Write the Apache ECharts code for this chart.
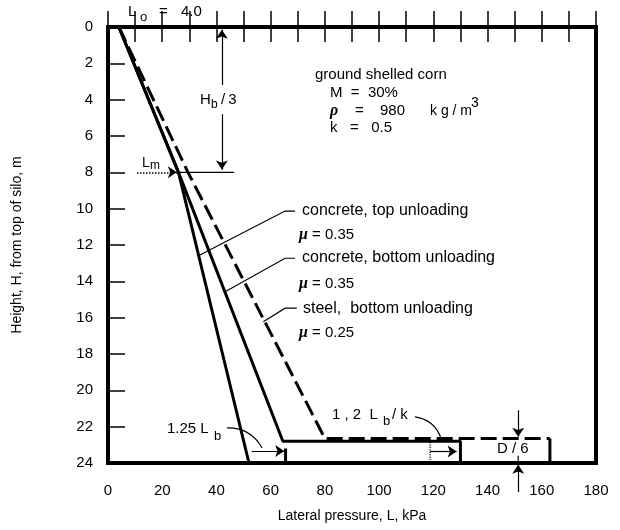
<!DOCTYPE html>
<html>
<head>
<meta charset="utf-8">
<script src="https://cdn.jsdelivr.net/npm/echarts@6/dist/echarts.min.js"></script>
<style>
  html, body { margin: 0; padding: 0; background: #fff; }
  #chart { width: 620px; height: 530px; }
</style>
</head>
<body>
<div id="chart"></div>
<script>
// axis ranges
var xMin = 0, xMax = 180, yMin = 0, yMax = 24;

// lateral pressure (kPa) vs depth (m)
var steelL = [4, 26, 52, 65.5, 65.5];
var steelH = [0, 8, 24, 24, 23.2];
var concBottomL = [4, 26, 64.5, 130, 130];
var concBottomH = [0, 8, 22.8, 22.8, 24];
var concTopL = [4, 29.5, 80, 163];
var concTopH = [0, 8, 22.65, 22.65];
var concTopEndL = [163, 163];
var concTopEndH = [22.65, 24];

// annotation geometry (data units)
var arrowLines = [
  [[42, 3.2], [42, 0.15]],      // Hb/3 up
  [[42, 4.8], [42, 7.85]],      // Hb/3 down
  [[53, 23.34], [65, 23.34]],   // 1.25 Lb
  [[118.8, 23.37], [128.6, 23.37]],
  [[151.3, 21.1], [151.3, 22.55]], // D/6 down
  [[151.3, 25.6], [151.3, 24.1]]   // D/6 up
];
var lmArrow = [[10.7, 8], [25.4, 8]];
var lmLine = [[25.8, 8], [46.5, 8]];
var leaderTop = [[33.9, 12.55], [65.3, 10.13], [69, 10.13]];
var leaderBottom = [[43.2, 14.57], [65.3, 12.73], [69, 12.73]];
var leaderSteel = [[57.3, 16.22], [65.3, 15.48], [69.6, 15.48]];
var curveLb = [[43.9, 22.07], [56.8, 23.17]];
var curveLbk = [[113.2, 21.46], [122.8, 22.62]];
var dottedTick = [[118.8, 22.85], [118.8, 23.9]];
var dimTick = [[151.3, 23.6], [151.3, 24]];

function pairs(xs, ys) {
  return xs.map(function (x, i) { return [x, ys[i]]; });
}

var FONT = 'Liberation Sans, Arial, sans-serif';

function txt(x, y, text, size, extra) {
  var o = {
    type: 'text', x: x, y: y, z: 10,
    style: { text: text, fill: '#000', font: size + 'px ' + FONT, verticalAlign: 'middle' }
  };
  if (extra) { for (var k in extra) o.style[k] = extra[k]; }
  return o;
}

var mu = { m: { font: 'italic bold 16px Liberation Serif, serif', fill: '#000' } };

var chart = echarts.init(document.getElementById('chart'));
var option = {
  backgroundColor: '#fff',
  animation: false,
  grid: {
    left: 108, right: 24, top: 27, bottom: 67,
    show: true, borderColor: '#000', borderWidth: 4, backgroundColor: 'transparent'
  },
  xAxis: [{
    type: 'value', min: xMin, max: xMax, interval: 10,
    name: 'Lateral pressure, L, kPa', nameLocation: 'middle', nameGap: 46,
    nameTextStyle: { fontFamily: FONT, fontSize: 14, color: '#000' },
    axisLine: { show: false },
    axisTick: { inside: true, length: 16, lineStyle: { color: '#000', width: 1.5 } },
    axisLabel: {
      margin: 20, fontFamily: FONT, fontSize: 15, color: '#000',
      formatter: function (v) { return v % 20 === 0 ? String(v) : ''; }
    },
    splitLine: { show: false }
  }, {
    type: 'value', position: 'top', min: xMin, max: xMax, interval: 10,
    axisLine: { show: false },
    axisTick: { inside: true, length: 15, lineStyle: { color: '#000', width: 1.5 } },
    axisLabel: { show: false },
    splitLine: { show: false }
  }],
  yAxis: {
    type: 'value', inverse: true, min: yMin, max: yMax, interval: 2,
    name: 'Height, H, from top of silo, m', nameLocation: 'middle', nameGap: 84,
    nameTextStyle: { fontFamily: FONT, fontSize: 14, color: '#000' },
    axisLine: { show: false },
    axisTick: { inside: true, length: 17, lineStyle: { color: '#000', width: 1.5 } },
    axisLabel: { margin: 15, fontFamily: FONT, fontSize: 15, color: '#000' },
    splitLine: { show: false }
  },
  series: [{
    name: 'steel, bottom unloading', type: 'line', symbol: 'none',
    data: pairs(steelL, steelH),
    lineStyle: { color: '#000', width: 3 }
  }, {
    name: 'concrete, bottom unloading', type: 'line', symbol: 'none',
    data: pairs(concBottomL, concBottomH),
    lineStyle: { color: '#000', width: 3 }
  }, {
    name: 'concrete, top unloading', type: 'line', symbol: 'none',
    data: pairs(concTopL, concTopH),
    lineStyle: { color: '#000', width: 3, type: [16, 6] }
  }, {
    name: 'top unloading wall', type: 'line', symbol: 'none',
    data: pairs(concTopEndL, concTopEndH),
    lineStyle: { color: '#000', width: 3 }
  }, {
    // dimension arrows
    type: 'lines', coordinateSystem: 'cartesian2d', clip: false,
    symbol: ['none', 'arrow'], symbolSize: 9,
    lineStyle: { color: '#000', width: 1.2, opacity: 1 },
    data: arrowLines.map(function (c) { return { coords: c }; }).concat([
      { coords: lmArrow, lineStyle: { type: 'dotted', width: 1.5 } }
    ])
  }, {
    // leaders
    type: 'lines', coordinateSystem: 'cartesian2d', polyline: true, clip: false,
    lineStyle: { color: '#000', width: 1.2, opacity: 1 },
    data: [
      { coords: lmLine },
      { coords: leaderTop },
      { coords: leaderBottom },
      { coords: leaderSteel },
      { coords: dottedTick, lineStyle: { type: 'dotted' } },
      { coords: dimTick }
    ]
  }, {
    // curved leaders
    type: 'lines', coordinateSystem: 'cartesian2d',
    lineStyle: { color: '#000', width: 1.2, opacity: 1, curveness: 0.3 },
    data: [{ coords: curveLb }, { coords: curveLbk }]
  }],
  graphic: [
    txt(128, 12, 'L', 15),
    txt(140, 17, 'o', 13),
    txt(159, 12, '=', 15),
    txt(181, 12, '4.0', 15),
    txt(200, 100, 'H', 15),
    txt(211, 105, 'b', 12),
    txt(221, 100, '/\u20093', 15),
    txt(142, 163, 'L', 14),
    txt(150, 166, 'm', 12),
    txt(315, 75, 'ground shelled corn', 15),
    txt(330, 93, 'M  =  30%', 15),
    txt(330, 111, '{m|\u03c1}', 15, { rich: mu }),
    txt(355, 111, '=', 15),
    txt(380, 111, '980', 15),
    txt(430, 111, 'k g / m', 14),
    txt(471, 103, '3', 14),
    txt(330, 128, 'k   =   0.5', 15),
    txt(302, 211, 'concrete, top unloading', 16),
    txt(299, 235, '{m|\u03bc} = 0.35', 15, { rich: mu }),
    txt(302, 258, 'concrete, bottom unloading', 16),
    txt(299, 284, '{m|\u03bc} = 0.35', 15, { rich: mu }),
    txt(303, 309, 'steel,  bottom unloading', 16),
    txt(299, 333, '{m|\u03bc} = 0.25', 15, { rich: mu }),
    txt(167, 429, '1.25 L', 15),
    txt(214, 436, 'b', 13),
    txt(332, 415, '1 , 2  L', 15),
    txt(383, 421, 'b', 13),
    txt(392, 415, '/ k', 15),
    txt(497, 449, 'D / 6', 15)
  ]
};
chart.setOption(option);
</script>
</body>
</html>
